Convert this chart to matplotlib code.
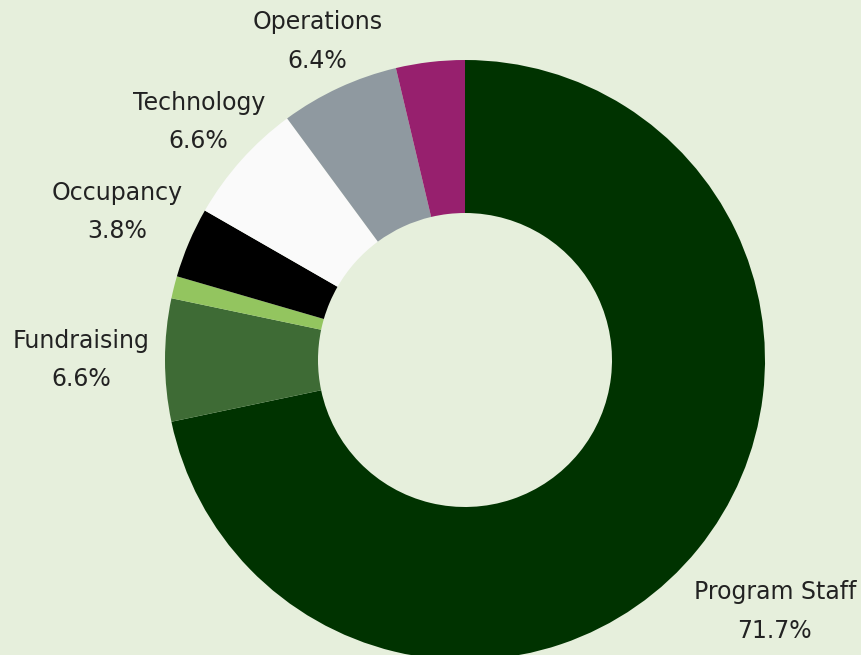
import numpy as np
import matplotlib
matplotlib.use("Agg")
import matplotlib.pyplot as plt

categories = ["Program Staff", "Fundraising", "Other", "Occupancy",
              "Technology", "Operations", "Insurance"]
shares = [71.7, 6.6, 1.2, 3.8, 6.6, 6.4, 3.7]
show_label = [True, True, False, True, True, True, False]
colors = ["#003300", "#3e6b35", "#93c55f", "#000000",
          "#fafafa", "#8f99a0", "#97206e"]
label_dist = [1.33, 1.28, 1.0, 1.26, 1.19, 1.17, 1.0]

bg = "#e6efdc"
fig = plt.figure(figsize=(8.61, 6.55), dpi=100, facecolor=bg)
ax = fig.add_axes([0, 0, 1, 1])
ax.set_facecolor(bg)

wedges, _ = ax.pie(shares, colors=colors, startangle=90, counterclock=False,
                   radius=1.0, wedgeprops=dict(width=0.51, linewidth=0))

for w, name, val, show, d in zip(wedges, categories, shares, show_label, label_dist):
    if not show:
        continue
    mid = np.deg2rad((w.theta1 + w.theta2) / 2)
    ax.text(d * np.cos(mid), d * np.sin(mid), f"{name}\n{val}%",
            ha="center", va="center", fontsize=17, family="DejaVu Sans",
            color="#222222", linespacing=1.75)

ax.set_xlim(-465 / 300, (861 - 465) / 300)
ax.set_ylim((360 - 655) / 300, 360 / 300)
ax.set_aspect("auto")
ax.axis("off")

fig.savefig("out.png", dpi=100, facecolor=bg)
